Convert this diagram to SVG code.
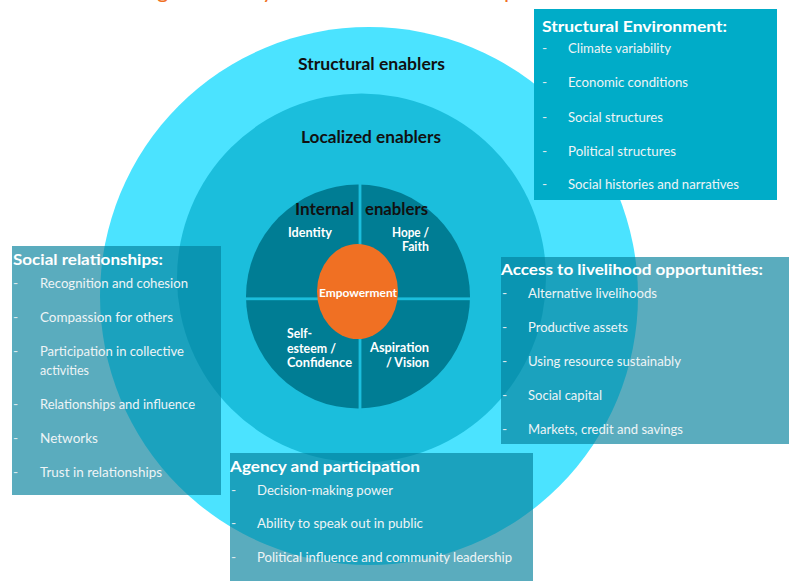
<svg xmlns="http://www.w3.org/2000/svg" width="789" height="581" viewBox="0 0 789 581">
  <style>
    .ring-label { font-family: Lato, "Open Sans", "Liberation Sans", sans-serif; font-weight: 700; font-size: 17px; fill: #111111; }
    .quad { font-family: Lato, "Open Sans", "Liberation Sans", sans-serif; font-weight: 700; font-size: 12.5px; fill: #ffffff; }
    .core { font-family: Lato, "Open Sans", "Liberation Sans", sans-serif; font-weight: 700; font-size: 11.5px; fill: #ffffff; }
    .box-title { font-family: Lato, "Open Sans", "Liberation Sans", sans-serif; font-weight: 700; font-size: 16px; fill: #ffffff; }
    .item { font-family: Lato, "Open Sans", "Liberation Sans", sans-serif; font-size: 14px; fill: #eef4f6; }
    .dash { font-family: Lato, "Open Sans", "Liberation Sans", sans-serif; font-size: 14px; fill: #dbeaee; }
    .title { font-family: Lato, "Open Sans", "Liberation Sans", sans-serif; font-size: 22px; fill: #f07023; }
    .panel-solid { fill: #00acc8; }
    .panel-glass { fill: #02809b; fill-opacity: 0.65; }
  </style>

  <rect width="789" height="581" fill="#ffffff"/>

  <!-- heading line running off the top edge: only descenders remain in view -->
  <text class="title" y="-2"><tspan x="157">g</tspan><tspan x="262">y</tspan><tspan x="504">p</tspan></text>

  <!-- nested rings -->
  <g id="structural-enablers">
    <circle cx="369" cy="296" r="269" fill="#4be3ff"/>
    <text class="ring-label" x="371.5" y="70" text-anchor="middle" textLength="147" lengthAdjust="spacingAndGlyphs">Structural enablers</text>
  </g>

  <g id="localized-enablers">
    <circle cx="361.5" cy="278" r="184.5" fill="#1bbedc"/>
    <text class="ring-label" x="371" y="143" text-anchor="middle" textLength="140" lengthAdjust="spacingAndGlyphs">Localized enablers</text>
  </g>

  <g id="internal-enablers">
    <circle cx="358" cy="296.5" r="112" fill="#007d94"/>
    <!-- quadrant separators -->
    <rect x="358.6" y="180" width="2.8" height="234" fill="#1bbedc"/>
    <rect x="244" y="297.4" width="228" height="2.8" fill="#1bbedc"/>
    <text class="ring-label" x="295" y="215" textLength="59" lengthAdjust="spacingAndGlyphs">Internal</text>
    <text class="ring-label" x="365" y="215" textLength="63" lengthAdjust="spacingAndGlyphs">enablers</text>
  </g>

  <g id="identity">
    <text class="quad" x="288" y="237" textLength="44" lengthAdjust="spacingAndGlyphs">Identity</text>
  </g>
  <g id="hope-faith">
    <text class="quad" x="429" y="237" text-anchor="end" textLength="37" lengthAdjust="spacingAndGlyphs">Hope /</text>
    <text class="quad" x="429" y="251" text-anchor="end" textLength="27" lengthAdjust="spacingAndGlyphs">Faith</text>
  </g>
  <g id="self-esteem">
    <text class="quad" x="287" y="338" textLength="25" lengthAdjust="spacingAndGlyphs">Self-</text>
    <text class="quad" x="287" y="353" textLength="49" lengthAdjust="spacingAndGlyphs">esteem /</text>
    <text class="quad" x="287" y="367" textLength="65" lengthAdjust="spacingAndGlyphs">Confidence</text>
  </g>
  <g id="aspiration">
    <text class="quad" x="429" y="352" text-anchor="end" textLength="59" lengthAdjust="spacingAndGlyphs">Aspiration</text>
    <text class="quad" x="429" y="367" text-anchor="end" textLength="43" lengthAdjust="spacingAndGlyphs">/ Vision</text>
  </g>

  <g id="empowerment">
    <ellipse cx="357.5" cy="291.5" rx="40.5" ry="47.5" fill="#f07023"/>
    <text class="core" x="358" y="297" text-anchor="middle" textLength="78" lengthAdjust="spacingAndGlyphs">Empowerment</text>
  </g>

  <!-- side panels -->
  <g id="structural-environment">
    <rect class="panel-solid" x="534" y="9" width="243" height="191"/>
    <text class="box-title" x="542" y="32" textLength="185" lengthAdjust="spacingAndGlyphs">Structural Environment:</text>
    <text class="dash" x="542" y="53">-</text>
    <text class="item" x="568" y="53" textLength="103" lengthAdjust="spacingAndGlyphs">Climate variability</text>
    <text class="dash" x="542" y="87">-</text>
    <text class="item" x="568" y="87" textLength="120" lengthAdjust="spacingAndGlyphs">Economic conditions</text>
    <text class="dash" x="542" y="121.5">-</text>
    <text class="item" x="568" y="121.5" textLength="95" lengthAdjust="spacingAndGlyphs">Social structures</text>
    <text class="dash" x="542" y="156">-</text>
    <text class="item" x="568" y="156" textLength="108" lengthAdjust="spacingAndGlyphs">Political structures</text>
    <text class="dash" x="542" y="189">-</text>
    <text class="item" x="568" y="189" textLength="171" lengthAdjust="spacingAndGlyphs">Social histories and narratives</text>
  </g>

  <g id="social-relationships">
    <rect class="panel-glass" x="12" y="246" width="209" height="249"/>
    <text class="box-title" x="13" y="265" textLength="150" lengthAdjust="spacingAndGlyphs">Social relationships:</text>
    <text class="dash" x="13" y="288">-</text>
    <text class="item" x="40" y="288" textLength="148" lengthAdjust="spacingAndGlyphs">Recognition and cohesion</text>
    <text class="dash" x="13" y="322">-</text>
    <text class="item" x="40" y="322" textLength="133" lengthAdjust="spacingAndGlyphs">Compassion for others</text>
    <text class="dash" x="13" y="356">-</text>
    <text class="item" x="40" y="356" textLength="144" lengthAdjust="spacingAndGlyphs">Participation in collective</text>
    <text class="item" x="40" y="375" textLength="49" lengthAdjust="spacingAndGlyphs">activities</text>
    <text class="dash" x="13" y="409">-</text>
    <text class="item" x="40" y="409" textLength="155" lengthAdjust="spacingAndGlyphs">Relationships and influence</text>
    <text class="dash" x="13" y="443">-</text>
    <text class="item" x="40" y="443" textLength="58" lengthAdjust="spacingAndGlyphs">Networks</text>
    <text class="dash" x="13" y="477">-</text>
    <text class="item" x="40" y="477" textLength="122" lengthAdjust="spacingAndGlyphs">Trust in relationships</text>
  </g>

  <g id="livelihood-opportunities">
    <rect class="panel-glass" x="501" y="257" width="288" height="187"/>
    <text class="box-title" x="501" y="275" textLength="262" lengthAdjust="spacingAndGlyphs">Access to livelihood opportunities:</text>
    <text class="dash" x="502" y="298">-</text>
    <text class="item" x="528" y="298" textLength="129" lengthAdjust="spacingAndGlyphs">Alternative livelihoods</text>
    <text class="dash" x="502" y="332">-</text>
    <text class="item" x="528" y="332" textLength="100" lengthAdjust="spacingAndGlyphs">Productive assets</text>
    <text class="dash" x="502" y="366">-</text>
    <text class="item" x="528" y="366" textLength="153" lengthAdjust="spacingAndGlyphs">Using resource sustainably</text>
    <text class="dash" x="502" y="400">-</text>
    <text class="item" x="528" y="400" textLength="74" lengthAdjust="spacingAndGlyphs">Social capital</text>
    <text class="dash" x="502" y="434">-</text>
    <text class="item" x="528" y="434" textLength="155" lengthAdjust="spacingAndGlyphs">Markets, credit and savings</text>
  </g>

  <g id="agency-participation">
    <rect class="panel-glass" x="230" y="453" width="303" height="128"/>
    <text class="box-title" x="230" y="472" textLength="190" lengthAdjust="spacingAndGlyphs">Agency and participation</text>
    <text class="dash" x="231" y="495">-</text>
    <text class="item" x="257" y="495" textLength="136" lengthAdjust="spacingAndGlyphs">Decision-making power</text>
    <text class="dash" x="231" y="528">-</text>
    <text class="item" x="257" y="528" textLength="166" lengthAdjust="spacingAndGlyphs">Ability to speak out in public</text>
    <text class="dash" x="231" y="562">-</text>
    <text class="item" x="257" y="562" textLength="255" lengthAdjust="spacingAndGlyphs">Political influence and community leadership</text>
  </g>

  <!-- no connectors in this figure -->
  <g id="connectors"/>
</svg>
